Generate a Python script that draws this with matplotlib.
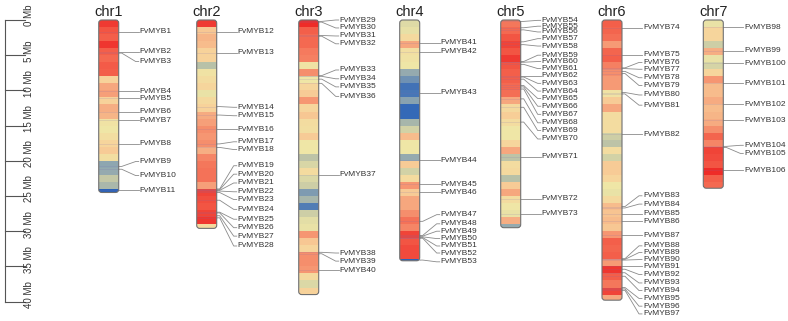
import numpy as np
import matplotlib.pyplot as plt
from matplotlib.colors import LinearSegmentedColormap
from matplotlib.patches import FancyBboxPatch

plt.rcParams['font.family'] = ['Liberation Sans', 'DejaVu Sans']

# Chromosome names and lengths (Mb)
chr_names = ['chr1', 'chr2', 'chr3', 'chr4', 'chr5', 'chr6', 'chr7']
chr_len = [24.5, 29.6, 39.0, 34.2, 29.5, 39.8, 23.9]

# Gene density per 1 Mb bin (relative, 0 = low, 1 = high)
dens_chr1 = [0.97, 0.92, 0.90, 0.98, 0.90, 0.88, 0.91, 0.90, 0.62, 0.74, 0.76, 0.62, 0.72,
             0.70, 0.52, 0.50, 0.55, 0.60, 0.64, 0.55, 0.20, 0.22, 0.35, 0.28, 0.0]
dens_chr2 = [0.97, 0.65, 0.70, 0.68, 0.62, 0.62, 0.32, 0.52, 0.56, 0.60, 0.48, 0.58, 0.62,
             0.73, 0.76, 0.80, 0.78, 0.80, 0.72, 0.82, 0.85, 0.86, 0.86, 0.76, 0.95, 0.93,
             0.92, 0.95, 0.98, 0.58]
dens_chr3 = [1.0, 0.90, 0.88, 0.88, 0.84, 0.83, 0.52, 0.80, 0.50, 0.60, 0.64, 0.78, 0.60,
             0.65, 0.56, 0.55, 0.64, 0.50, 0.50, 0.33, 0.42, 0.57, 0.43, 0.38, 0.17, 0.27,
             0.08, 0.38, 0.46, 0.48, 0.78, 0.65, 0.60, 0.80, 0.80, 0.78, 0.58, 0.43, 0.62]
dens_chr4 = [0.44, 0.47, 0.58, 0.74, 0.54, 0.52, 0.50, 0.22, 0.14, 0.05, 0.06, 0.19, 0.02,
             0.02, 0.27, 0.40, 0.68, 0.50, 0.50, 0.22, 0.64, 0.40, 0.57, 0.78, 0.64, 0.74,
             0.74, 0.80, 0.86, 0.82, 0.95, 0.92, 0.94, 0.94, 0.0]
dens_chr5 = [0.85, 0.88, 0.92, 0.95, 0.92, 0.97, 0.92, 0.90, 0.90, 0.88, 0.87, 0.74, 0.58,
             0.63, 0.56, 0.50, 0.50, 0.60, 0.74, 0.33, 0.56, 0.58, 0.32, 0.64, 0.74, 0.56,
             0.50, 0.48, 0.72, 0.22]
dens_chr6 = [0.90, 0.89, 0.87, 0.77, 0.89, 0.90, 0.83, 0.80, 0.77, 0.77, 0.52, 0.64, 0.74,
             0.56, 0.56, 0.56, 0.38, 0.33, 0.56, 0.40, 0.64, 0.64, 0.60, 0.50, 0.48, 0.58,
             0.68, 0.66, 0.68, 0.65, 0.78, 0.90, 0.89, 0.90, 0.77, 0.98, 0.90, 0.85, 0.95, 0.74]
dens_chr7 = [0.48, 0.60, 0.60, 0.38, 0.72, 0.48, 0.41, 0.60, 0.78, 0.68, 0.68, 0.73, 0.68,
             0.70, 0.73, 0.80, 0.89, 0.82, 0.95, 0.94, 0.92, 1.0, 0.90, 0.88]
densities = [dens_chr1, dens_chr2, dens_chr3, dens_chr4, dens_chr5, dens_chr6, dens_chr7]

# MYB gene positions (Mb), numbered consecutively FvMYB1..FvMYB106
genes_chr1 = [1.66, 4.5, 4.7, 10.1, 11.1, 13.0, 14.25, 17.6, 20.8, 21.2, 24.15]
genes_chr2 = [1.66, 4.64, 12.3, 13.5, 15.5, 17.6, 18.1, 24.0, 24.1, 24.2, 24.3, 24.5, 25.6,
              27.3, 27.4, 27.8, 28.1]
genes_chr3 = [0.2, 0.3, 2.2, 2.3, 7.9, 8.0, 8.4, 9.0, 21.95, 33.0, 33.2, 35.55]
genes_chr4 = [3.25, 4.5, 10.3, 19.95, 23.3, 24.5, 28.6, 30.6, 30.7, 30.8, 30.9, 31.0, 34.1]
genes_chr5 = [0.2, 1.1, 1.4, 3.1, 3.5, 5.9, 6.0, 6.3, 7.9, 8.1, 8.4, 9.3, 9.5, 9.8, 11.2,
              12.4, 14.5, 19.4, 25.4, 27.55]
genes_chr6 = [1.07, 4.95, 6.8, 6.9, 7.3, 7.6, 10.3, 10.5, 16.2, 26.5, 26.7, 27.5, 28.57,
              30.6, 33.9, 34.0, 34.1, 35.0, 35.4, 35.9, 36.4, 38.0, 38.2, 38.4]
genes_chr7 = [1.0, 4.4, 6.15, 8.95, 12.0, 14.25, 17.95, 18.1, 21.35]
genes = [genes_chr1, genes_chr2, genes_chr3, genes_chr4, genes_chr5, genes_chr6, genes_chr7]

# label y positions (Mb) as placed in the figure
lab_chr1 = [1.66, 4.5, 5.9, 10.1, 11.1, 13.0, 14.25, 17.6, 20.1, 22.1, 24.15]
lab_chr2 = [1.66, 4.64, 12.4, 13.6, 15.5, 17.3, 18.4, 20.7, 21.9, 23.15, 24.4, 25.5, 26.9,
            28.3, 29.5, 30.7, 32.1]
lab_chr3 = [0.0, 1.13, 2.27, 3.38, 7.1, 8.35, 9.5, 10.85, 21.95, 33.1, 34.25, 35.55]
lab_chr4 = [3.25, 4.5, 10.3, 19.95, 23.3, 24.5, 27.65, 28.95, 30.0, 31.05, 32.1, 33.1, 34.35]
lab_chr5 = [0.05, 0.88, 1.7, 2.65, 3.7, 5.0, 5.9, 6.9, 7.9, 9.0, 10.1, 11.15, 12.25, 13.4,
            14.6, 15.7, 16.9, 19.4, 25.4, 27.55]
lab_chr6 = [1.07, 4.95, 6.03, 7.0, 8.2, 9.3, 10.65, 12.1, 16.2, 24.97, 26.15, 27.5, 28.57,
            30.6, 32.08, 33.03, 34.03, 35.0, 36.15, 37.35, 38.43, 39.55, 40.65, 41.75]
lab_chr7 = [1.0, 4.4, 6.15, 8.95, 12.0, 14.25, 17.8, 18.95, 21.35]
labels_y = [lab_chr1, lab_chr2, lab_chr3, lab_chr4, lab_chr5, lab_chr6, lab_chr7]

scale_ticks = [0, 5, 10, 15, 20, 25, 30, 35, 40]

# layout (x in pixels, y in Mb)
px_per_mb = 7.04
y0_px = 20
chr_x = [108.7, 206.7, 308.7, 409.7, 510.7, 612.0, 713.3]
bar_w = 20

cmap = LinearSegmentedColormap.from_list('dens', [
    (0.0, '#2a62b8'), (0.2, '#8ea6b0'), (0.35, '#c4c8a6'), (0.5, '#efe6a6'),
    (0.62, '#f7d29a'), (0.75, '#f6a47c'), (0.88, '#f46a52'), (1.0, '#ee2c28')])

fig = plt.figure(figsize=(7.88, 3.21), dpi=100)
ax = fig.add_axes([0, 0, 1, 1])
ax.set_xlim(0, 788)
ax.set_ylim((321 - y0_px) / px_per_mb, -y0_px / px_per_mb)
ax.axis('off')

# scale bar
ax.plot([5, 5], [0, 40], color='#555555', lw=0.8)
for t in scale_ticks:
    ax.plot([5, 25], [t, t], color='#555555', lw=0.8)
    ax.text(29, t + 0.9, f'{t} Mb', rotation=90, ha='center', va='bottom',
            fontsize=7, color='#333333')

n = 1
for i, name in enumerate(chr_names):
    cx = chr_x[i]
    L = chr_len[i]
    d = np.array(densities[i])
    starts = np.arange(len(d), dtype=float)
    heights = np.minimum(starts + 1, L) - starts
    outline = FancyBboxPatch((cx - bar_w / 2, 0), bar_w, L,
                             boxstyle='round,pad=0,rounding_size=3',
                             mutation_aspect=1 / px_per_mb,
                             facecolor='none', edgecolor='#707070', lw=0.8, zorder=4)
    ax.add_patch(outline)
    bars = ax.bar(np.full(len(d), cx), heights, bottom=starts, width=bar_w,
                  color=cmap(d), edgecolor='none', zorder=2)
    for b in bars:
        b.set_clip_path(outline)
    ax.text(cx, -1.2, name, ha='center', va='center', fontsize=10.5, color='#222222')

    for g, ly in zip(genes[i], labels_y[i]):
        ax.plot([cx - bar_w / 2, cx + bar_w / 2], [g, g], color='#7a6ab0',
                lw=0.5, alpha=0.22, zorder=3)
        ax.plot([cx + bar_w / 2, cx + 13, cx + 27, cx + 30], [g, g, ly, ly],
                color='#8a8a8a', lw=0.6, zorder=3)
        ax.text(cx + 31, ly, f'FvMYB{n}', ha='left', va='center',
                fontsize=6, color='#333333')
        n += 1

fig.savefig('out.png', dpi=100)
